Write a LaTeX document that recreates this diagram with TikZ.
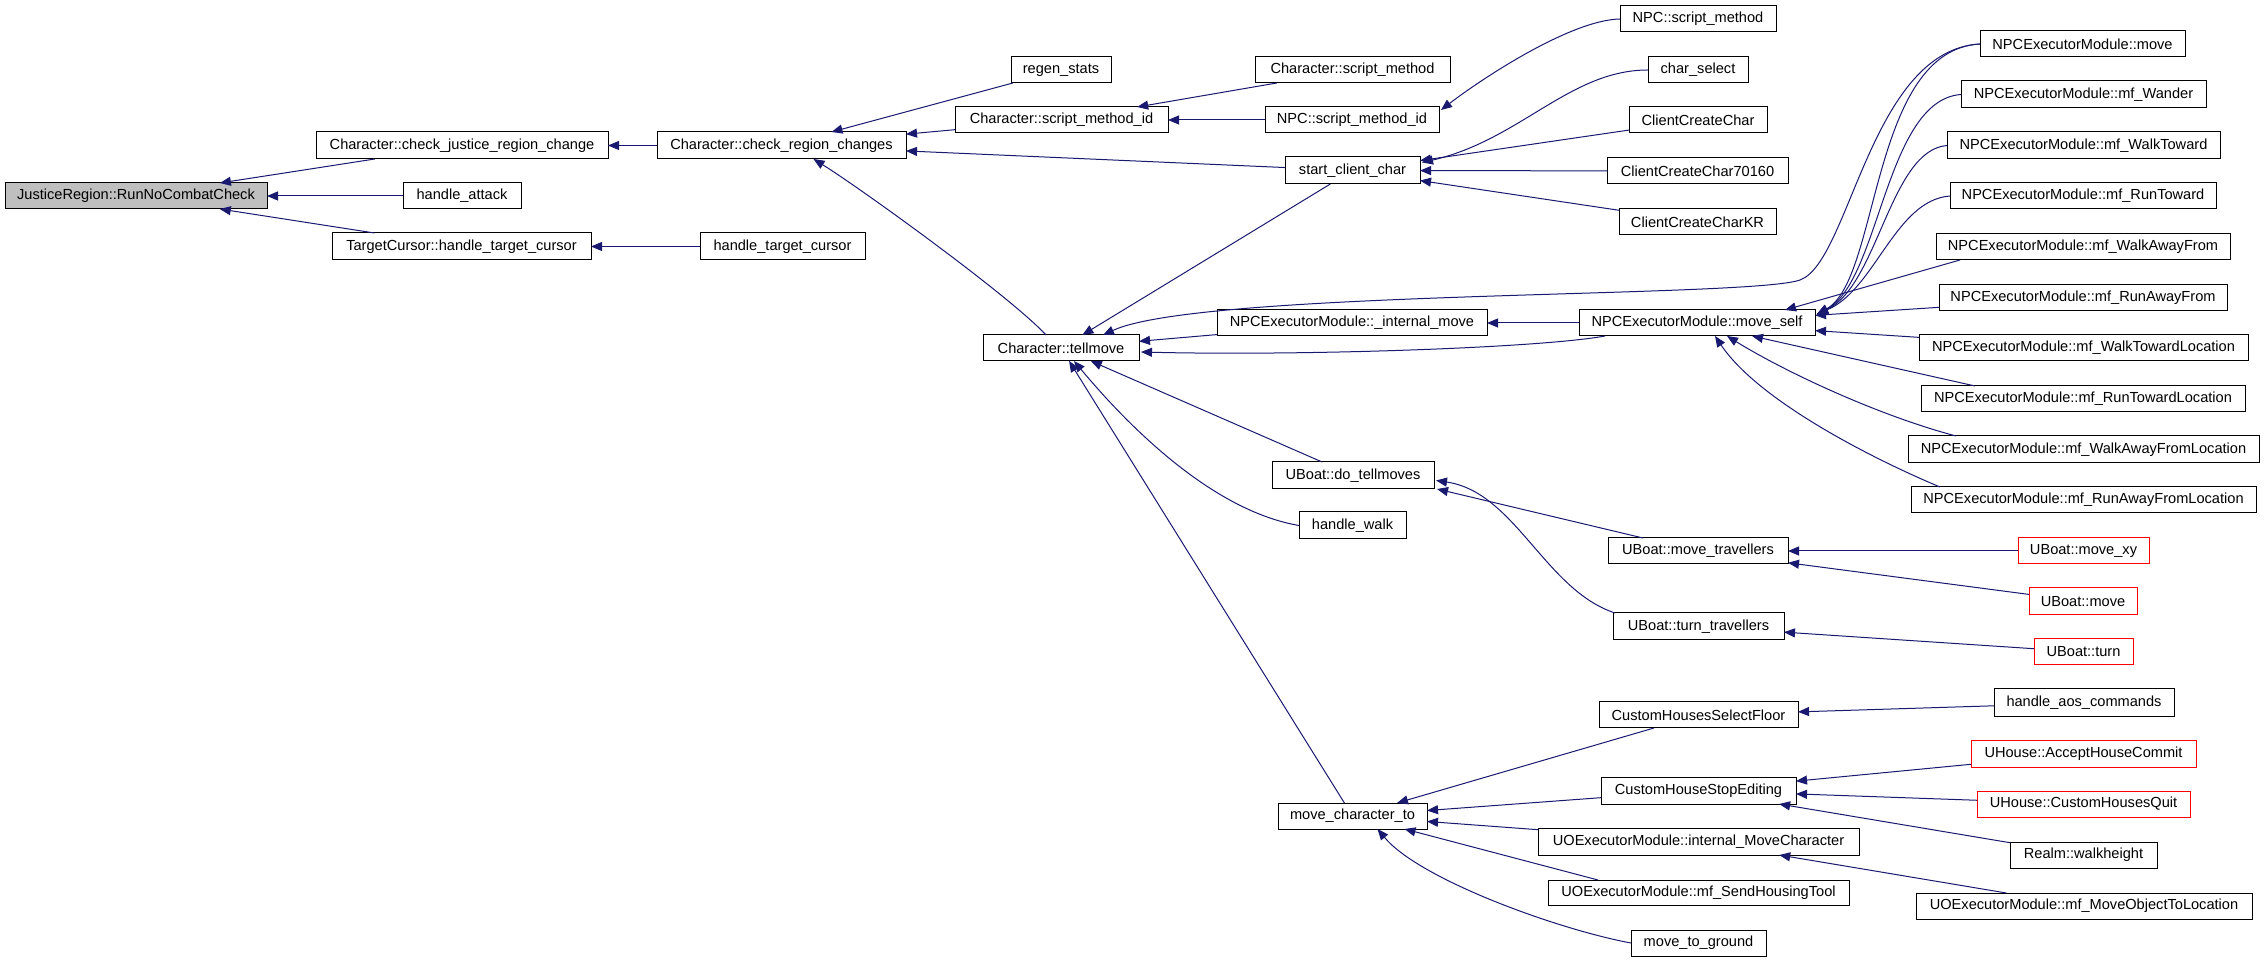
\documentclass[tikz,border=0pt]{standalone}
\usepackage{fontspec}
\setmainfont{Liberation Sans}
\usetikzlibrary{arrows.meta,calc}
\definecolor{edgecol}{RGB}{25,25,112}
\definecolor{rootfill}{RGB}{191,191,191}
\tikzset{
  box/.style={draw=black,line width=0.5pt,fill=white,inner sep=0pt,outer sep=0pt,
    font=\fontsize{7.3pt}{8pt}\selectfont,text=black},
  redbox/.style={draw=red},
  rootbox/.style={fill=rootfill},
  call/.style={draw=edgecol,line width=0.5pt,-{Triangle[length=5.5pt,width=4.5pt]}}
}
\newcommand\bx[7][]{\node[box,#1,minimum width={(#5-#3)*0.5pt},minimum height={(#6-#4)*0.5pt}] (#2) at ({(#3+#5)/2},{(#4+#6)/2}) {#7};}
\begin{document}
\begin{tikzpicture}[x=0.5pt,y=-0.5pt]
\useasboundingbox (0,0) rectangle (2264,961);
% nodes
\bx[rootbox]{rnc}{5}{183}{267}{209}{JusticeRegion::RunNoCombatCheck}
\bx{cjrc}{316}{132}{608}{159}{Character::check\_justice\_region\_change}
\bx{ha}{403}{183}{521}{209}{handle\_attack}
\bx{thtc}{332}{233}{591}{260}{TargetCursor::handle\_target\_cursor}
\bx{crc}{657}{132}{906}{159}{Character::check\_region\_changes}
\bx{htc}{700}{233}{865}{260}{handle\_target\_cursor}
\bx{regen}{1011}{57}{1111}{83}{regen\_stats}
\bx{csm}{1255}{57}{1450}{83}{Character::script\_method}
\bx{csmi}{955}{107}{1168}{133}{Character::script\_method\_id}
\bx{npcsmi}{1265}{107}{1439}{133}{NPC::script\_method\_id}
\bx{scc}{1285}{157}{1420}{184}{start\_client\_char}
\bx{tm}{983}{335}{1139}{361}{Character::tellmove}
\bx{im}{1217}{310}{1487}{336}{NPCExecutorModule::\_internal\_move}
\bx{dtm}{1272}{462}{1434}{489}{UBoat::do\_tellmoves}
\bx{npcsm}{1620}{6}{1776}{32}{NPC::script\_method}
\bx{cs}{1648}{57}{1748}{83}{char\_select}
\bx{ccc}{1629}{107}{1767}{133}{ClientCreateChar}
\bx{cc7}{1607}{158}{1788}{184}{ClientCreateChar70160}
\bx{cckr}{1619}{209}{1776}{235}{ClientCreateCharKR}
\bx{mv}{1980}{31}{2185}{57}{NPCExecutorModule::move}
\bx{wan}{1961}{81}{2206}{108}{NPCExecutorModule::mf\_Wander}
\bx{wt}{1947}{132}{2220}{159}{NPCExecutorModule::mf\_WalkToward}
\bx{rt}{1950}{183}{2216}{209}{NPCExecutorModule::mf\_RunToward}
\bx{waf}{1936}{234}{2230}{260}{NPCExecutorModule::mf\_WalkAwayFrom}
\bx{raf}{1939}{285}{2227}{311}{NPCExecutorModule::mf\_RunAwayFrom}
\bx{ms}{1579}{310}{1815}{336}{NPCExecutorModule::move\_self}
\bx{wtl}{1919}{335}{2248}{361}{NPCExecutorModule::mf\_WalkTowardLocation}
\bx{rtl}{1921}{386}{2245}{412}{NPCExecutorModule::mf\_RunTowardLocation}
\bx{wafl}{1908}{436}{2259}{463}{NPCExecutorModule::mf\_WalkAwayFromLocation}
\bx{rafl}{1911}{487}{2256}{513}{NPCExecutorModule::mf\_RunAwayFromLocation}
\bx{hw}{1299}{512}{1406}{539}{handle\_walk}
\bx{mct}{1278}{803}{1427}{829}{move\_character\_to}
\bx{mt}{1608}{538}{1788}{564}{UBoat::move\_travellers}
\bx[redbox]{mxy}{2018}{538}{2149}{564}{UBoat::move\_xy}
\bx[redbox]{um}{2029}{588}{2137}{615}{UBoat::move}
\bx{tt}{1613}{613}{1784}{640}{UBoat::turn\_travellers}
\bx[redbox]{ut}{2034}{639}{2133}{665}{UBoat::turn}
\bx{chsf}{1599}{702}{1798}{728}{CustomHousesSelectFloor}
\bx{hac}{1994}{689}{2174}{717}{handle\_aos\_commands}
\bx[redbox]{ahc}{1971}{740}{2196}{767}{UHouse::AcceptHouseCommit}
\bx{chse}{1601}{777}{1796}{804}{CustomHouseStopEditing}
\bx[redbox]{chq}{1977}{791}{2190}{817}{UHouse::CustomHousesQuit}
\bx{imc}{1538}{828}{1859}{855}{UOExecutorModule::internal\_MoveCharacter}
\bx{rw}{2010}{842}{2157}{868}{Realm::walkheight}
\bx{sht}{1548}{880}{1849}{905}{UOExecutorModule::mf\_SendHousingTool}
\bx{mol}{1916}{893}{2252}{919}{UOExecutorModule::mf\_MoveObjectToLocation}
\bx{mtg}{1631}{930}{1766}{956}{move\_to\_ground}
% edges
\draw[call] (cjrc) -- (rnc);
\draw[call] (ha) -- (rnc);
\draw[call] (thtc) -- (rnc);
\draw[call] (crc) -- (cjrc);
\draw[call] (htc) -- (thtc);
\draw[call] (regen) -- (crc);
\draw[call] (csmi) -- (crc);
\draw[call] (scc) -- (crc);
\draw[call] ($(tm.north)+(-15,0)$) .. controls (1011,297) and (863,190) .. ($(crc.south)+(32,0)$);
\draw[call] (csm) -- (csmi);
\draw[call] (npcsmi) -- (csmi);
\draw[call] (npcsm.west) .. controls (1570,20) and (1480,80) .. ($(npcsmi.north east)+(2,3)$);
\draw[call] (cs.west) .. controls (1570,70) and (1520,140) .. ($(scc.east)+(2,-8)$);
\draw[call] (ccc) -- (scc);
\draw[call] (cc7) -- (scc);
\draw[call] (cckr) -- (scc);
\draw[call] (scc) -- (tm);
\draw[call] (mv.west) .. controls (1870,50) and (1850,262) .. (1800,280) .. controls (1750,298) and (1200,290) .. ($(tm.north east)+(-36,0)$);
\draw[call] (im) -- (tm);
\draw[call] ($(ms.south)+(-92,0)$) .. controls (1540,348) and (1300,356) .. ($(tm.east)+(2,4)$);
\draw[call] (ms) -- (im);
\draw[call] (dtm) -- (tm);
\draw[call] (hw.west) .. controls (1220,512) and (1140,440) .. ($(tm.south)+(13,0)$);
\draw[call] (mct) -- (tm);
\draw[call] (mv.west) .. controls (1870,50) and (1880,280) .. ($(ms.east)+(2,-9)$);
\draw[call] (wan.west) .. controls (1885,100) and (1880,282) .. ($(ms.east)+(2,-9)$);
\draw[call] (wt.west) .. controls (1890,150) and (1878,286) .. ($(ms.east)+(2,-9)$);
\draw[call] (rt.west) .. controls (1895,200) and (1875,290) .. ($(ms.east)+(2,-9)$);
\draw[call] ($(waf.south west)+(24,0)$) -- ($(ms.north)+(88,0)$);
\draw[call] (raf) -- (ms);
\draw[call] (wtl) -- (ms);
\draw[call] ($(rtl.north west)+(54,0)$) -- ($(ms.south)+(55,0)$);
\draw[call] ($(wafl.north west)+(48,0)$) .. controls (1880,416) and (1787,373) .. ($(ms.south)+(30,0)$);
\draw[call] ($(rafl.north west)+(29,0)$) .. controls (1880,462) and (1760,403) .. ($(ms.south)+(18,0)$);
\draw[call] ($(mt.north west)+(35,0)$) -- ($(dtm.south east)+(3,0)$);
\draw[call] ($(tt.north west)+(2,0)$) .. controls (1545,590) and (1515,492) .. ($(dtm.east)+(2,5)$);
\draw[call] (mxy) -- (mt);
\draw[call] (um) -- (mt);
\draw[call] (ut) -- (tt);
\draw[call] (hac) -- (chsf);
\draw[call] (chsf) -- (mct);
\draw[call] (ahc) -- (chse);
\draw[call] (chq) -- (chse);
\draw[call] (rw) -- (chse);
\draw[call] (chse) -- (mct);
\draw[call] (imc) -- (mct);
\draw[call] (mol) -- (imc);
\draw[call] ($(sht.north west)+(50,0)$) -- ($(mct.south)+(52,0)$);
\draw[call] (mtg.west) .. controls (1560,930) and (1420,880) .. ($(mct.south)+(25,0)$);
\end{tikzpicture}
\end{document}
